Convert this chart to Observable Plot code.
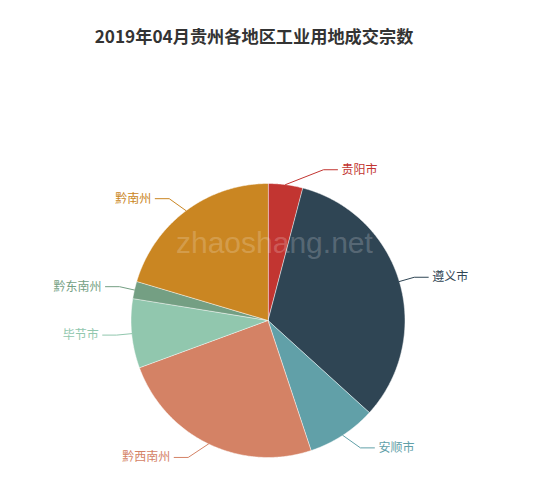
<!DOCTYPE html>
<html>
<head>
<meta charset="utf-8">
<script src="https://cdn.jsdelivr.net/npm/d3@7"></script>
<script src="https://cdn.jsdelivr.net/npm/@observablehq/plot@0.6"></script>
<style>
  html, body { margin: 0; padding: 0; background: #fff; }
  #wrap { position: relative; width: 550px; height: 490px; overflow: hidden; }
  #title { width: 508px; height: 72px; line-height: 71px; text-align: center;
           font-family: "Noto Sans CJK SC", sans-serif; font-weight: 700; font-size: 17.2px; color: #333; }
  #wm { position: absolute; left: 176px; top: 228px; font-family: "Liberation Sans", sans-serif;
        font-size: 30px; line-height: 30px; color: rgba(255,255,255,0.2); pointer-events: none; white-space: nowrap; }
</style>
</head>
<body>
<div id="wrap">
  <div id="title">2019年04月贵州各地区工业用地成交宗数</div>
  <div id="chart"></div>
  <div id="wm">zhaoshang.net</div>
</div>
<script>
// ---- data ----
const regions = ["贵阳市", "遵义市", "安顺市", "黔西南州", "毕节市", "黔东南州", "黔南州"];
const counts = [2, 16, 4, 12, 4, 1, 10];
const colors = ["#c23531", "#2f4554", "#61a0a8", "#d48265", "#91c7ae", "#749f83", "#ca8622"];

// ---- layout (pixels) ----
const W = 550, H = 418;
const CX = 267.5, CY = 248, R = 137;
const LEN1 = 15, LEN2 = 14;

// pie angles (clockwise from 12 o'clock)
const arcs = d3.pie().sort(null).value(d => d.v)(regions.map((n, i) => ({name: n, v: counts[i]})));

const slicePts = [];
arcs.forEach(a => {
  const name = a.data.name;
  slicePts.push({name, x: 0, y: 0});
  const n = Math.max(2, Math.ceil((a.endAngle - a.startAngle) / (Math.PI / 360)));
  for (let k = 0; k <= n; k++) {
    const t = a.startAngle + (a.endAngle - a.startAngle) * k / n;
    slicePts.push({name, x: Math.sin(t), y: Math.cos(t)});
  }
});

// label guide lines (ECharts-like layout)
const r1 = (R + LEN1) / R, r2 = LEN2 / R, rAll = (R + LEN1 + LEN2) / R;
const guidePts = [], labels = [];
arcs.forEach(a => {
  const name = a.data.name;
  const m = (a.startAngle + a.endAngle) / 2;
  const dir = Math.sin(m) >= 0 ? 1 : -1;
  const ky = r1 * Math.cos(m);
  const dx = Math.sqrt(Math.max(0, rAll * rAll - ky * ky));
  const ex = dir * dx;
  const kx = ex - dir * r2;
  guidePts.push({name, x: Math.sin(m), y: Math.cos(m)});
  guidePts.push({name, x: kx, y: ky});
  guidePts.push({name, x: ex, y: ky});
  labels.push({name, x: ex, y: ky, dir});
});

const color = {type: "ordinal", domain: regions, range: colors};

const chart = Plot.plot({
  width: W, height: H,
  marginTop: 0, marginRight: 0, marginBottom: 0, marginLeft: 0,
  x: {domain: [-CX / R, (W - CX) / R], axis: null},
  y: {domain: [-(H - CY) / R, CY / R], axis: null},
  color,
  style: {fontFamily: "'Noto Sans CJK SC', sans-serif", background: "transparent"},
  marks: [
    Plot.line(slicePts, {x: "x", y: "y", z: "name", fill: "name", stroke: "#fff", strokeWidth: 0.5, curve: "linear-closed"}),
    Plot.line(guidePts, {x: "x", y: "y", z: "name", stroke: "name", strokeWidth: 1}),
    Plot.text(labels.filter(d => d.dir > 0), {x: "x", y: "y", text: "name", fill: "name", textAnchor: "start", dx: 4, fontSize: 12}),
    Plot.text(labels.filter(d => d.dir < 0), {x: "x", y: "y", text: "name", fill: "name", textAnchor: "end", dx: -4, fontSize: 12})
  ]
});
document.getElementById("chart").appendChild(chart);
</script>
</body>
</html>
